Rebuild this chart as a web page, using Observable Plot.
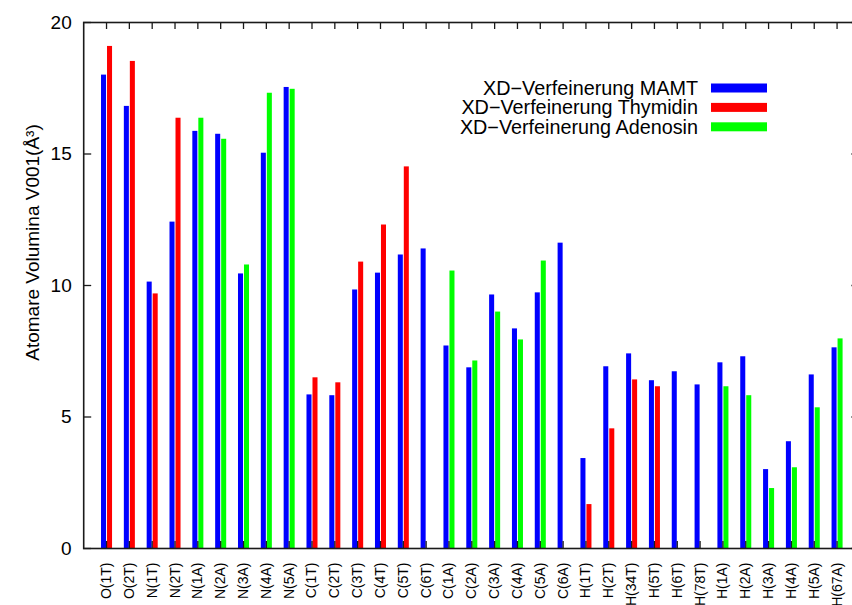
<!DOCTYPE html>
<html>
<head>
<meta charset="utf-8">
<script src="https://cdn.jsdelivr.net/npm/d3@7"></script>
<script src="https://cdn.jsdelivr.net/npm/@observablehq/plot@0.6"></script>
<style>
  html, body { margin: 0; padding: 0; background: #fff; }
  #chart { width: 852px; height: 605px; overflow: hidden; }
</style>
</head>
<body>
<div id="chart"></div>
<script>
// ---- data ----
const categories = ["O(1T)","O(2T)","N(1T)","N(2T)","N(1A)","N(2A)","N(3A)","N(4A)","N(5A)",
  "C(1T)","C(2T)","C(3T)","C(4T)","C(5T)","C(6T)","C(1A)","C(2A)","C(3A)","C(4A)","C(5A)","C(6A)",
  "H(1T)","H(2T)","H(34T)","H(5T)","H(6T)","H(78T)","H(1A)","H(2A)","H(3A)","H(4A)","H(5A)","H(67A)"];
const mamt = [18.0, 16.81, 10.13, 12.41, 15.86, 15.75, 10.44, 15.03, 17.53,
  5.84, 5.81, 9.83, 10.47, 11.16, 11.39, 7.70, 6.87, 9.64, 8.35, 9.72, 11.61,
  3.42, 6.91, 7.40, 6.38, 6.72, 6.22, 7.06, 7.29, 3.00, 4.06, 6.60, 7.63];
const thymidin = [19.09, 18.52, 9.68, 16.36, null, null, null, null, null,
  6.49, 6.30, 10.89, 12.30, 14.51, null, null, null, null, null, null, null,
  1.67, 4.55, 6.41, 6.15, null, null, null, null, null, null, null, null];
const adenosin = [null, null, null, null, 16.36, 15.56, 10.78, 17.31, 17.46,
  null, null, null, null, null, null, 10.55, 7.13, 8.99, 7.93, 10.93, null,
  null, null, null, null, null, null, 6.15, 5.81, 2.28, 3.07, 5.35, 7.97];
const seriesNames = ["XD\u2212Verfeinerung MAMT", "XD\u2212Verfeinerung Thymidin", "XD\u2212Verfeinerung Adenosin"];
const seriesColors = ["#0000ff", "#ff0000", "#00ff00"];
const yTicks = [0, 5, 10, 15, 20];
const yLabel = "Atomare Volumina V001(\u00C5\u00B3)";

// ---- build tables ----
const toRows = (arr) => categories.map((c, i) => ({cat: c, v: arr[i]})).filter(d => d.v != null);
const mamtRows = toRows(mamt);
const thyRows = toRows(thymidin);
const adeRows = toRows(adenosin);

const W = 852, H = 605;
const mL = 83.2, mR = -7.4, mT = 22, mB = 57;
const frameW = W - mL - mR, frameH = H - mT - mB;
const font = "'Liberation Sans', Arial, Helvetica, sans-serif";
const ink = "#1a1a1a";

// legend as a render-function mark
function legend() {
  const g = d3.create("svg:g").attr("font-family", font).attr("font-size", 19.8).attr("fill", "#000");
  seriesNames.forEach((name, i) => {
    const cy = 88 + i * 19.4;
    g.append("text").attr("x", 698).attr("y", cy).attr("dy", "0.35em")
      .attr("text-anchor", "end").text(name);
    g.append("rect").attr("x", 711).attr("y", cy - 4.5).attr("width", 56).attr("height", 9)
      .attr("fill", seriesColors[i]);
  });
  return g.node();
}

const chart = Plot.plot({
  width: W,
  height: H,
  marginLeft: mL,
  marginRight: mR,
  marginTop: mT,
  marginBottom: mB,
  style: {fontFamily: font, background: "#fff", overflow: "hidden"},
  x: {type: "band", domain: categories, range: [mL, W - mR], round: false,
      paddingInner: 0, paddingOuter: 0.5, align: 0.5, axis: null},
  y: {domain: [0, 20], range: [H - mB, mT], axis: null},
  marks: [
    Plot.barY(mamtRows, {x: "cat", y: "v", fill: seriesColors[0], insetLeft: 6.4, insetRight: 11.4}),
    Plot.barY(thyRows, {x: "cat", y: "v", fill: seriesColors[1], insetLeft: 12.4, insetRight: 5.4}),
    Plot.barY(adeRows, {x: "cat", y: "v", fill: seriesColors[2], insetLeft: 12.4, insetRight: 5.4}),
    // inward ticks
    Plot.tickX(categories, {x: d => d, stroke: ink, strokeWidth: 1.3, insetTop: frameH - 7}),
    Plot.tickX(categories, {x: d => d, stroke: ink, strokeWidth: 1.3, insetBottom: frameH - 7}),
    Plot.tickY(yTicks, {y: d => d, stroke: ink, strokeWidth: 1.3, insetRight: frameW - 8}),
    Plot.tickY(yTicks, {y: d => d, stroke: ink, strokeWidth: 1.3, insetLeft: frameW - 8}),
    Plot.frame({stroke: ink, strokeWidth: 1.6}),
    // y tick labels
    Plot.text(yTicks, {y: d => d, text: d => String(d), frameAnchor: "left", dx: -12, textAnchor: "end",
      fontSize: 19, fill: "#000"}),
    // x tick labels
    Plot.text(categories, {x: d => d, text: d => d, frameAnchor: "bottom", dy: 14, rotate: -90,
      textAnchor: "end", lineAnchor: "middle", fontSize: 14, fill: "#000"}),
    // y axis title
    Plot.text([yLabel], {text: d => d, frameAnchor: "left", dx: -51, dy: -43, rotate: -90,
      textAnchor: "middle", lineAnchor: "middle", fontSize: 19, fill: "#000"}),
    legend
  ]
});
document.getElementById("chart").appendChild(chart);
</script>
</body>
</html>
